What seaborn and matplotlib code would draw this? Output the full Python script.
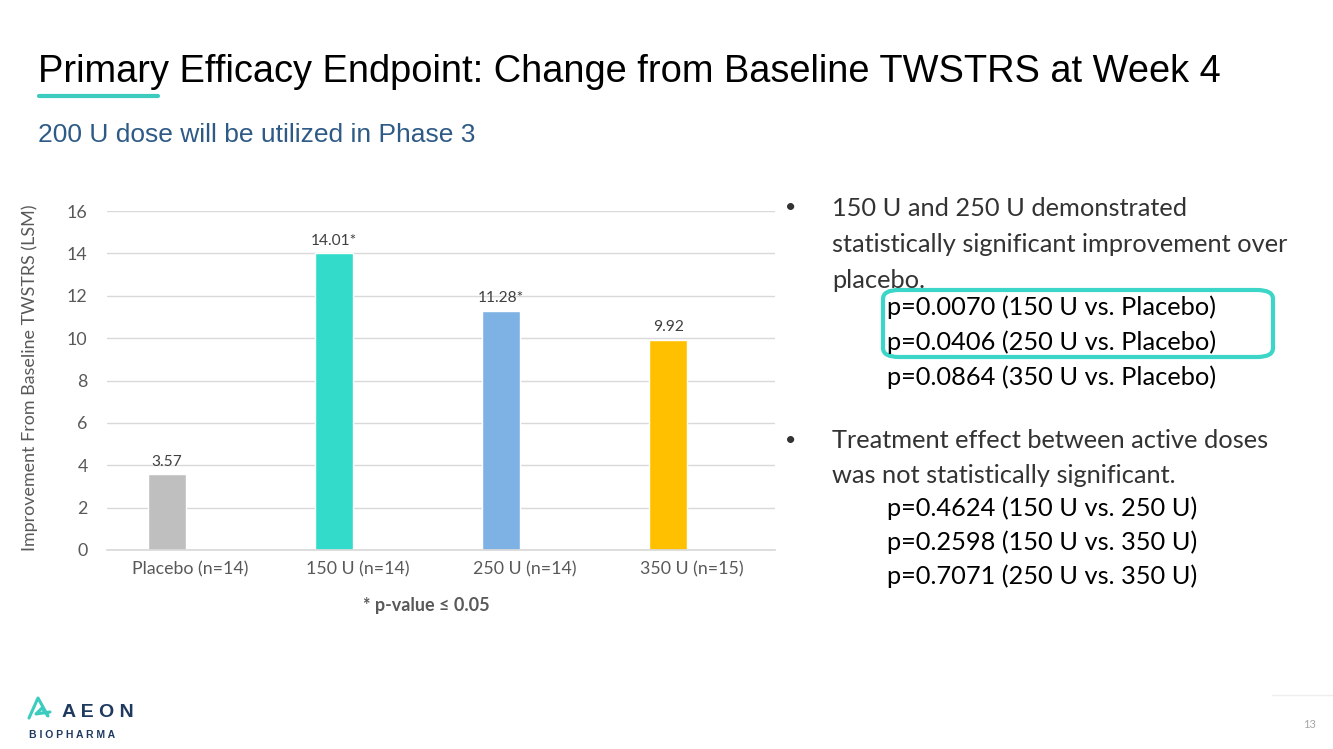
import matplotlib
matplotlib.use("Agg")
import matplotlib.pyplot as plt
import seaborn as sns
from matplotlib.patches import FancyBboxPatch
from matplotlib.lines import Line2D

# chart data
groups = ['Placebo (n=14)', '150 U (n=14)', '250 U (n=14)', '350 U (n=15)']
lsm_values = [3.57, 14.01, 11.28, 9.92]
value_labels = ['3.57', '14.01*', '11.28*', '9.92']
bar_colors = ['#BFBFBF', '#33DBCB', '#7FB2E4', '#FFC000']
y_ticks = [0, 2, 4, 6, 8, 10, 12, 14, 16]

# slide text
title = 'Primary Efficacy Endpoint: Change from Baseline TWSTRS at Week 4'
subtitle = '200 U dose will be utilized in Phase 3'
bullet1 = ['150 U and 250 U demonstrated',
           'statistically significant improvement over',
           'placebo.']
pvals1 = ['p=0.0070 (150 U vs. Placebo)',
          'p=0.0406 (250 U vs. Placebo)',
          'p=0.0864 (350 U vs. Placebo)']
bullet2 = ['Treatment effect between active doses',
           'was not statistically significant.']
pvals2 = ['p=0.4624 (150 U vs. 250 U)',
          'p=0.2598 (150 U vs. 350 U)',
          'p=0.7071 (250 U vs. 350 U)']

sns.set_theme(style="whitegrid")
plt.rcParams['font.family'] = ['Lato', 'DejaVu Sans']

W, H = 1333, 749
fig = plt.figure(figsize=(W / 100, H / 100), dpi=100)
fig.patch.set_facecolor('white')

def fx(px):
    return px / W

def fy(py):
    return 1 - py / H

# bar chart
ax = fig.add_axes([fx(107), fy(550), fx(775) - fx(107), fy(211) - fy(550)])
sns.barplot(x=groups, y=lsm_values, hue=groups, palette=bar_colors,
            width=0.227, saturation=1, legend=False, ax=ax)

for cont, lab in zip(ax.containers, value_labels):
    ax.bar_label(cont, labels=[lab], padding=4, fontsize=11.2, color='#404040')

ax.set_ylim(0, 16)
ax.set_yticks(y_ticks)
# bars sit left of the category centre, as in the clustered Excel chart
ax.set_xlim(-0.36, 3.64)
ax.set_xticks([i + 0.14 for i in range(len(groups))])
ax.set_xticklabels(groups)
ax.tick_params(axis='both', labelsize=12.8, colors='#595959', length=0, pad=8)
ax.tick_params(axis='y', pad=14)
ax.grid(axis='y', color='#D9D9D9', linewidth=1)
ax.grid(axis='x', visible=False)
for s in ['top', 'right', 'left']:
    ax.spines[s].set_visible(False)
ax.spines['bottom'].set_color('#D9D9D9')
ax.set_facecolor('white')
ax.set_xlabel('')
ax.set_ylabel('')
fig.text(fx(30), fy(378), 'Improvement From Baseline TWSTRS (LSM)', rotation=90,
         ha='center', va='center', fontsize=12.9, color='#595959')

fig.text(fx(426), fy(606), '* p-value \u2264 0.05', ha='center', va='center',
         fontsize=13, fontweight='bold', color='#595959')

# title and subtitle
fig.text(fx(38), fy(82), title, ha='left', va='baseline', fontsize=27.4,
         family='Liberation Sans', color='black')
fig.add_artist(Line2D([fx(39), fx(158)], [fy(96), fy(96)], color='#3CCBBF', lw=3))
fig.text(fx(38), fy(142), subtitle, ha='left', va='baseline', fontsize=19,
         family='Liberation Sans', color='#2E5A86')

# right text block
tx_color = '#333333'
fs = 18.3
for i, (line, yy) in enumerate(zip(bullet1, [208, 245, 280])):
    if i == 0:
        fig.text(fx(791), fy(yy), '\u2022', ha='center', va='center', fontsize=14, color=tx_color)
    fig.text(fx(832), fy(yy), line, ha='left', va='center', fontsize=fs, color=tx_color)
for line, yy in zip(pvals1, [307, 342, 377]):
    fig.text(fx(887), fy(yy), line, ha='left', va='center', fontsize=fs, color='black')
box = FancyBboxPatch((fx(883), fy(357)), fx(1273) - fx(883), fy(290) - fy(357),
                     boxstyle='round,pad=0,rounding_size=0.012',
                     transform=fig.transFigure, fill=False, edgecolor='#3CD6C8', lw=3)
fig.add_artist(box)
for i, (line, yy) in enumerate(zip(bullet2, [441, 476])):
    if i == 0:
        fig.text(fx(791), fy(yy), '\u2022', ha='center', va='center', fontsize=14, color=tx_color)
    fig.text(fx(832), fy(yy), line, ha='left', va='center', fontsize=fs, color=tx_color)
for line, yy in zip(pvals2, [508, 542, 576]):
    fig.text(fx(887), fy(yy), line, ha='left', va='center', fontsize=fs, color='black')

# logo
fig.add_artist(Line2D([fx(29), fx(38), fx(48), fx(42), fx(36), fx(50)],
                      [fy(718), fy(698), fy(716), fy(708), fy(714), fy(712)],
                      color='#3CCBBF', lw=2.2, solid_capstyle='round', solid_joinstyle='round'))
fig.text(fx(62), fy(717), 'A E O N', ha='left', va='baseline', fontsize=14,
         fontweight='bold', color='#1F3A5F', family='Liberation Sans')
fig.text(fx(29), fy(738), 'B I O P H A R M A', ha='left', va='baseline', fontsize=7.5,
         fontweight='bold', color='#1F3A5F', family='Liberation Sans')

# page number
fig.add_artist(Line2D([fx(1272), fx(1333)], [fy(695), fy(695)], color='#EEEEEE', lw=1))
fig.text(fx(1310), fy(724), '13', ha='center', va='center', fontsize=8, color='#A6A6A6')

fig.savefig('out.png', dpi=100, facecolor='white')
